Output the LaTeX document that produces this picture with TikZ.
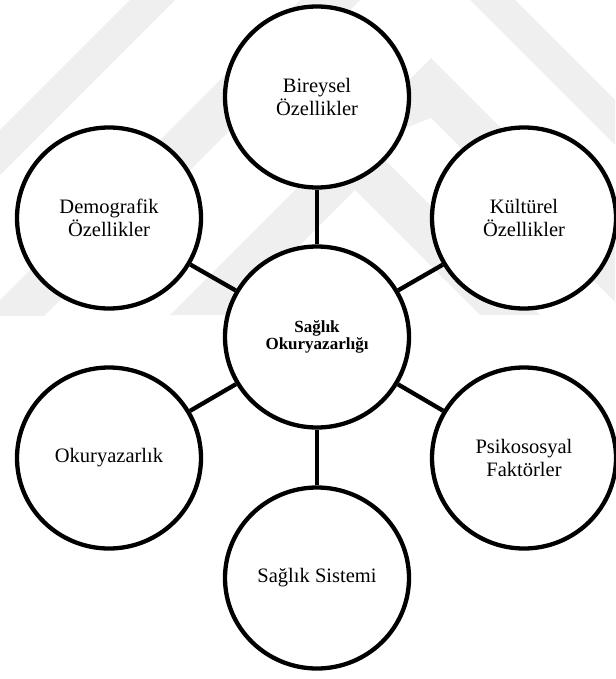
\documentclass[tikz,border=0pt]{standalone}
\usepackage{fontspec}
\setmainfont{Liberation Serif}
\usetikzlibrary{shapes.geometric}
\definecolor{wm}{HTML}{EFEFEF}
\begin{document}
\begin{tikzpicture}[x=1pt,y=-1pt,
  bub/.style={ellipse, draw, line width=4.3pt, minimum width=184pt, minimum height=181pt,
    inner sep=0pt, align=center, fill=white, font=\fontsize{20.5}{23}\selectfont},
  hub/.style={bub, font=\bfseries\fontsize{17}{16.5}\selectfont},
  link/.style={line width=4.3pt},
  wmark/.style={fill=wm, draw=none}]
\useasboundingbox (0,0) rectangle (615,679);
% faint background watermark
\begin{scope}
\clip (0,0) rectangle (615,315);
\fill[wmark] (0,130) -- (130,0) -- (175,0) -- (0,175) -- cycle;
\fill[wmark] (0,300) -- (300,0) -- (360,0) -- (0,360) -- cycle;
\fill[wmark] (355,190) -- (480,315) -- (540,315) -- (355,130) -- (170,315) -- (230,315) -- cycle;
\fill[wmark] (431,118) -- (628,315) -- (628,255) -- (431,58) -- (380,110) -- (400,130) -- cycle;
\fill[wmark] (470,0) -- (615,145) -- (615,100) -- (515,0) -- cycle;
\end{scope}
\node[hub] (C) at (317,337) {Sağlık\\Okuryazarlığı};
\node[bub] (T) at (317,97)  {Bireysel\\Özellikler};
\node[bub] (D) at (109,218) {Demografik\\Özellikler};
\node[bub] (K) at (524,218) {Kültürel\\Özellikler};
\node[bub] (O) at (109,458) {Okuryazarlık};
\node[bub] (P) at (524,458) {Psikososyal\\Faktörler};
\node[bub] (S) at (317,578) {Sağlık Sistemi};
\foreach \n in {T,D,K,O,P,S} \draw[link] (C) -- (\n);
\end{tikzpicture}
\end{document}
